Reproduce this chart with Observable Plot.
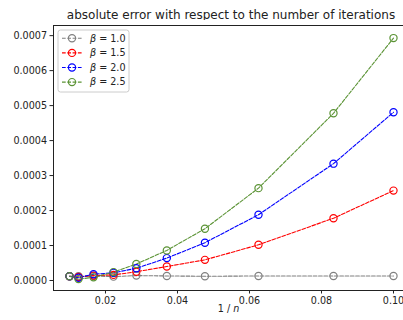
<!DOCTYPE html>
<html>
<head>
<meta charset="utf-8">
<script src="https://cdn.jsdelivr.net/npm/d3@7"></script>
<script src="https://cdn.jsdelivr.net/npm/@observablehq/plot@0.6"></script>
<style>
  html, body { margin: 0; padding: 0; background: white; }
  #wrap { position: relative; width: 403px; height: 320px; overflow: hidden; font-family: "DejaVu Sans", sans-serif; }
  #title { position: absolute; left: 53px; width: 356px; top: 6px; height: 18px; line-height: 18px; text-align: center; font-size: 12px; color: #222; white-space: nowrap; }
  #chart { position: absolute; left: 0; top: 20px; }
</style>
</head>
<body>
<div id="wrap">
  <div id="title">absolute error with respect to the number of iterations</div>
  <div id="chart"></div>
</div>
<script>
// number of iterations n (x = 1/n)
const nValues = [100, 80, 60, 45, 35, 27, 21, 16, 12, 10];
const betas = ["1.0", "1.5", "2.0", "2.5"];
const colors = ["#808080", "#ff0000", "#0000ff", "#5b9335"];
// absolute error values
const err10 = [0.000012, 0.000012, 0.000013, 0.000011, 0.000014, 0.000013, 0.000012, 0.000013, 0.000013, 0.000013];
const err15 = [0.000012, 0.000010, 0.000014, 0.000016, 0.000025, 0.000040, 0.000059, 0.000102, 0.000178, 0.000257];
const err20 = [0.000012, 0.000008, 0.000018, 0.000022, 0.000035, 0.000064, 0.000108, 0.000188, 0.000334, 0.000481];
const err25 = [0.000012, 0.000004, 0.000009, 0.000024, 0.000047, 0.000086, 0.000148, 0.000264, 0.000478, 0.000693];
const xTicks = [0.02, 0.04, 0.06, 0.08, 0.10];
const yTicks = [0, 0.0001, 0.0002, 0.0003, 0.0004, 0.0005, 0.0006, 0.0007];
const xDomain = [0.005556, 0.10278];
const yDomain = [-0.0000286, 0.000729];

const series = [err10, err15, err20, err25];
const data = [];
series.forEach((vals, i) => {
  vals.forEach((v, j) => data.push({beta: betas[i], x: 1 / nValues[j], y: v}));
});

const plot = Plot.plot({
  width: 403,
  height: 300,
  marginLeft: 53,
  marginRight: 0,
  marginTop: 5,
  marginBottom: 30,
  style: {fontFamily: "DejaVu Sans", fontSize: "9.6px", color: "#222", background: "white"},
  x: {domain: xDomain},
  y: {domain: yDomain},
  color: {domain: betas, range: colors},
  marks: [
    Plot.axisX({ticks: xTicks, tickFormat: d => d.toFixed(2), tickSize: 3.5, tickPadding: 3, label: "1 / n", labelAnchor: "center", labelArrow: "none", labelOffset: 21}),
    Plot.axisY({ticks: yTicks, tickFormat: d => d.toFixed(4), tickSize: 3.5, tickPadding: 3, label: null}),
    ...betas.map(b => Plot.line(data.filter(d => d.beta === b), {x: "x", y: "y", stroke: "beta", strokeWidth: 1.1, strokeDasharray: "3.7,1.6"})),
    ...betas.map(b => Plot.dot(data.filter(d => d.beta === b), {x: "x", y: "y", stroke: "beta", r: 3.6, strokeWidth: 1.2, fill: "none"})),
    Plot.ruleX([xDomain[0]], {stroke: "#222", strokeWidth: 1}),
    Plot.ruleY(yDomain, {stroke: "#222", strokeWidth: 1})
  ]
});
document.getElementById("chart").appendChild(plot);

// italic n in axis label
const svg = d3.select(plot);
svg.selectAll("text").filter(function() { return this.textContent === "1 / n"; })
  .each(function() {
    const t = d3.select(this);
    t.text("");
    t.append("tspan").text("1 / ");
    t.append("tspan").attr("font-style", "italic").text("n");
  });

// legend
const lg = svg.append("g").attr("font-family", "DejaVu Sans").attr("font-size", "9.6px").attr("text-anchor", "start");
lg.append("rect").attr("x", 58).attr("y", 10).attr("width", 71).attr("height", 62)
  .attr("rx", 2.5).attr("fill", "white").attr("fill-opacity", 0.8).attr("stroke", "#cccccc").attr("stroke-width", 1);
betas.forEach((b, i) => {
  const y = 18.3 + i * 14.6;
  const g = lg.append("g");
  g.append("line").attr("x1", 62).attr("x2", 82).attr("y1", y).attr("y2", y)
    .attr("stroke", colors[i]).attr("stroke-width", 1.1).attr("stroke-dasharray", "3.7,1.6");
  g.append("circle").attr("cx", 72).attr("cy", y).attr("r", 3.6).attr("fill", "none").attr("stroke", colors[i]).attr("stroke-width", 1.2);
  const t = g.append("text").attr("x", 90).attr("y", y).attr("dy", "0.35em").attr("fill", "#222").attr("text-anchor", "start");
  t.append("tspan").attr("font-style", "italic").text("β");
  t.append("tspan").text(" = " + b);
});
</script>
</body>
</html>
